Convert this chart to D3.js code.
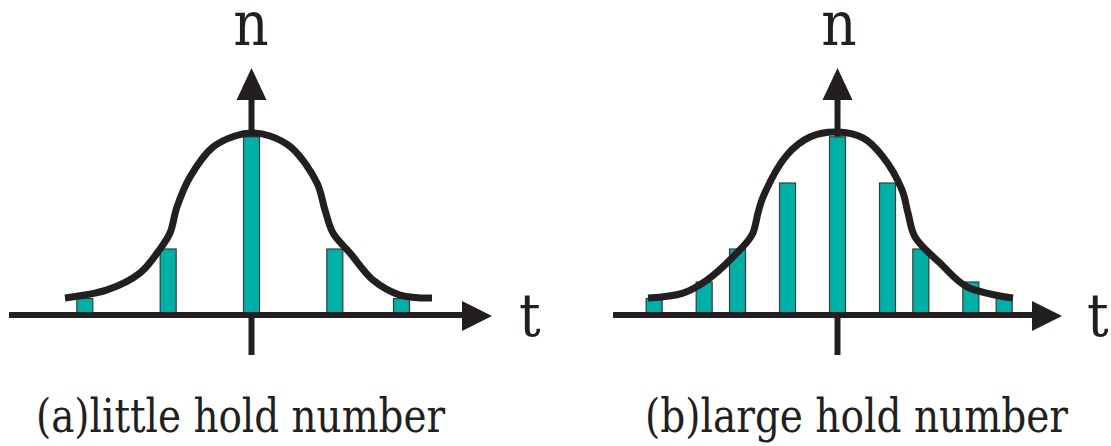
<!DOCTYPE html>
<html>
<head>
<meta charset="utf-8">
<script src="https://cdn.jsdelivr.net/npm/d3@7"></script>
<style>
  html, body { margin: 0; padding: 0; background: #fff; }
  svg { display: block; }
  text { font-family: "DejaVu Serif Condensed", "DejaVu Serif", serif; }
</style>
</head>
<body>
<svg id="chart" width="1111" height="446"></svg>
<script>
// ---------- data ----------
// panel (a): little hold number
const barsA_t = [-10, -5, 0, 5, 9];
const barsA_n = [1, 4, 10.8, 4, 1];
const curveA_t = [-11.19, -8.67, -6.69, -5.49, -4.89, -4.47, -3.69, -2.31, -0.99, 0, 1.11, 2.43, 3.93, 4.41, 4.89, 5.91, 7.29, 8.91, 10.83];
const curveA_n = [1.03, 1.52, 2.55, 4.0, 4.97, 6.55, 8.36, 10.18, 10.85, 11.03, 10.85, 10.12, 8.0, 6.36, 4.97, 3.76, 2.12, 1.21, 1.03];

// panel (b): large hold number
const barsB_t = [-11, -8, -6, -3, 0, 3, 5, 8, 10];
const barsB_n = [1, 2, 4, 8, 10.8, 8, 4, 2, 1];
const curveB_t = [-11.37, -9.27, -7.83, -6.27, -5.13, -4.77, -4.47, -3.03, -1.65, -0.03, 1.53, 2.73, 3.87, 4.23, 4.65, 6.15, 7.77, 10.53];
const curveB_n = [1.03, 1.33, 2.12, 3.52, 4.85, 6.18, 7.15, 9.70, 10.79, 11.09, 10.73, 9.58, 7.58, 6.18, 4.73, 3.15, 1.70, 1.03];

// axis extents (data units): [start, arrow tip]
const axisA_t = [-14.55, 14.43];
const axisB_t = [-13.47, 13.47];
const axis_n = [-2.42, 14.97];

const axisLabelX = "t";
const axisLabelY = "n";
const captions = ["(a)little hold number", "(b)large hold number"];

// ---------- drawing ----------
const svg = d3.select("#chart");
const INK = "#231f20";
const TEAL = "#00afa5";

const y = d3.scaleLinear().domain([0, 12]).range([315, 117]);

const panels = [
  { bt: barsA_t, bn: barsA_n, ct: curveA_t, cn: curveA_n, ax: axisA_t,
    x: d3.scaleLinear().domain([-15, 15]).range([251.5 - 250, 251.5 + 250]),
    caption: captions[0], capX: 36, capW: 409, tX: 519, nX: 251 },
  { bt: barsB_t, bn: barsB_n, ct: curveB_t, cn: curveB_n, ax: axisB_t,
    x: d3.scaleLinear().domain([-15, 15]).range([837.5 - 250, 837.5 + 250]),
    caption: captions[1], capX: 645, capW: 423, tX: 1087, nX: 839 }
];

const AH = 30;   // arrow head length
const AW = 15;   // arrow head half-width
const AXW = 6;   // axis stroke width

panels.forEach(p => {
  const g = svg.append("g");
  const x = p.x;
  const x0 = x(0), y0 = y(0);

  // vertical axis (behind bars)
  const yTip = y(axis_n[1]);
  g.append("line")
    .attr("x1", x0).attr("x2", x0)
    .attr("y1", y(axis_n[0])).attr("y2", yTip + AH - 1)
    .attr("stroke", INK).attr("stroke-width", AXW);
  g.append("path")
    .attr("d", `M${x0},${yTip} L${x0 - AW},${yTip + AH + 2} L${x0 + AW},${yTip + AH + 2} Z`)
    .attr("fill", INK);

  // bars
  const bw = 16;
  g.selectAll("rect.bar")
    .data(p.bt.map((t, i) => ({ t, n: p.bn[i] })))
    .join("rect")
    .attr("class", "bar")
    .attr("x", d => x(d.t) - bw / 2)
    .attr("y", d => y(d.n))
    .attr("width", bw)
    .attr("height", d => y0 - y(d.n))
    .attr("fill", TEAL)
    .attr("stroke", "#3a3a3a")
    .attr("stroke-width", 1.2);

  // horizontal axis
  const xTip = x(p.ax[1]);
  g.append("line")
    .attr("x1", x(p.ax[0])).attr("x2", xTip - AH + 1)
    .attr("y1", y0).attr("y2", y0)
    .attr("stroke", INK).attr("stroke-width", AXW);
  g.append("path")
    .attr("d", `M${xTip},${y0 + 1} L${xTip - AH},${y0 - AW + 1} L${xTip - AH},${y0 + AW + 1} Z`)
    .attr("fill", INK);

  // curve
  const line = d3.line()
    .x(d => x(d[0])).y(d => y(d[1]))
    .curve(d3.curveCatmullRom.alpha(0.5));
  g.append("path")
    .datum(p.ct.map((t, i) => [t, p.cn[i]]))
    .attr("d", line)
    .attr("fill", "none")
    .attr("stroke", INK)
    .attr("stroke-width", 7)
    .attr("stroke-linecap", "butt")
    .attr("stroke-linejoin", "round");

  // labels
  g.append("text")
    .attr("x", p.nX).attr("y", 45)
    .attr("text-anchor", "middle")
    .attr("font-size", 61)
    .attr("fill", INK)
    .text(axisLabelY);
  g.append("text")
    .attr("x", p.tX).attr("y", 336)
    .attr("font-size", 60)
    .attr("fill", INK)
    .text(axisLabelX);

  g.append("text")
    .attr("x", p.capX).attr("y", 432)
    .attr("font-size", 47)
    .attr("fill", INK)
    .attr("textLength", p.capW)
    .attr("lengthAdjust", "spacingAndGlyphs")
    .text(p.caption);
});
</script>
</body>
</html>
